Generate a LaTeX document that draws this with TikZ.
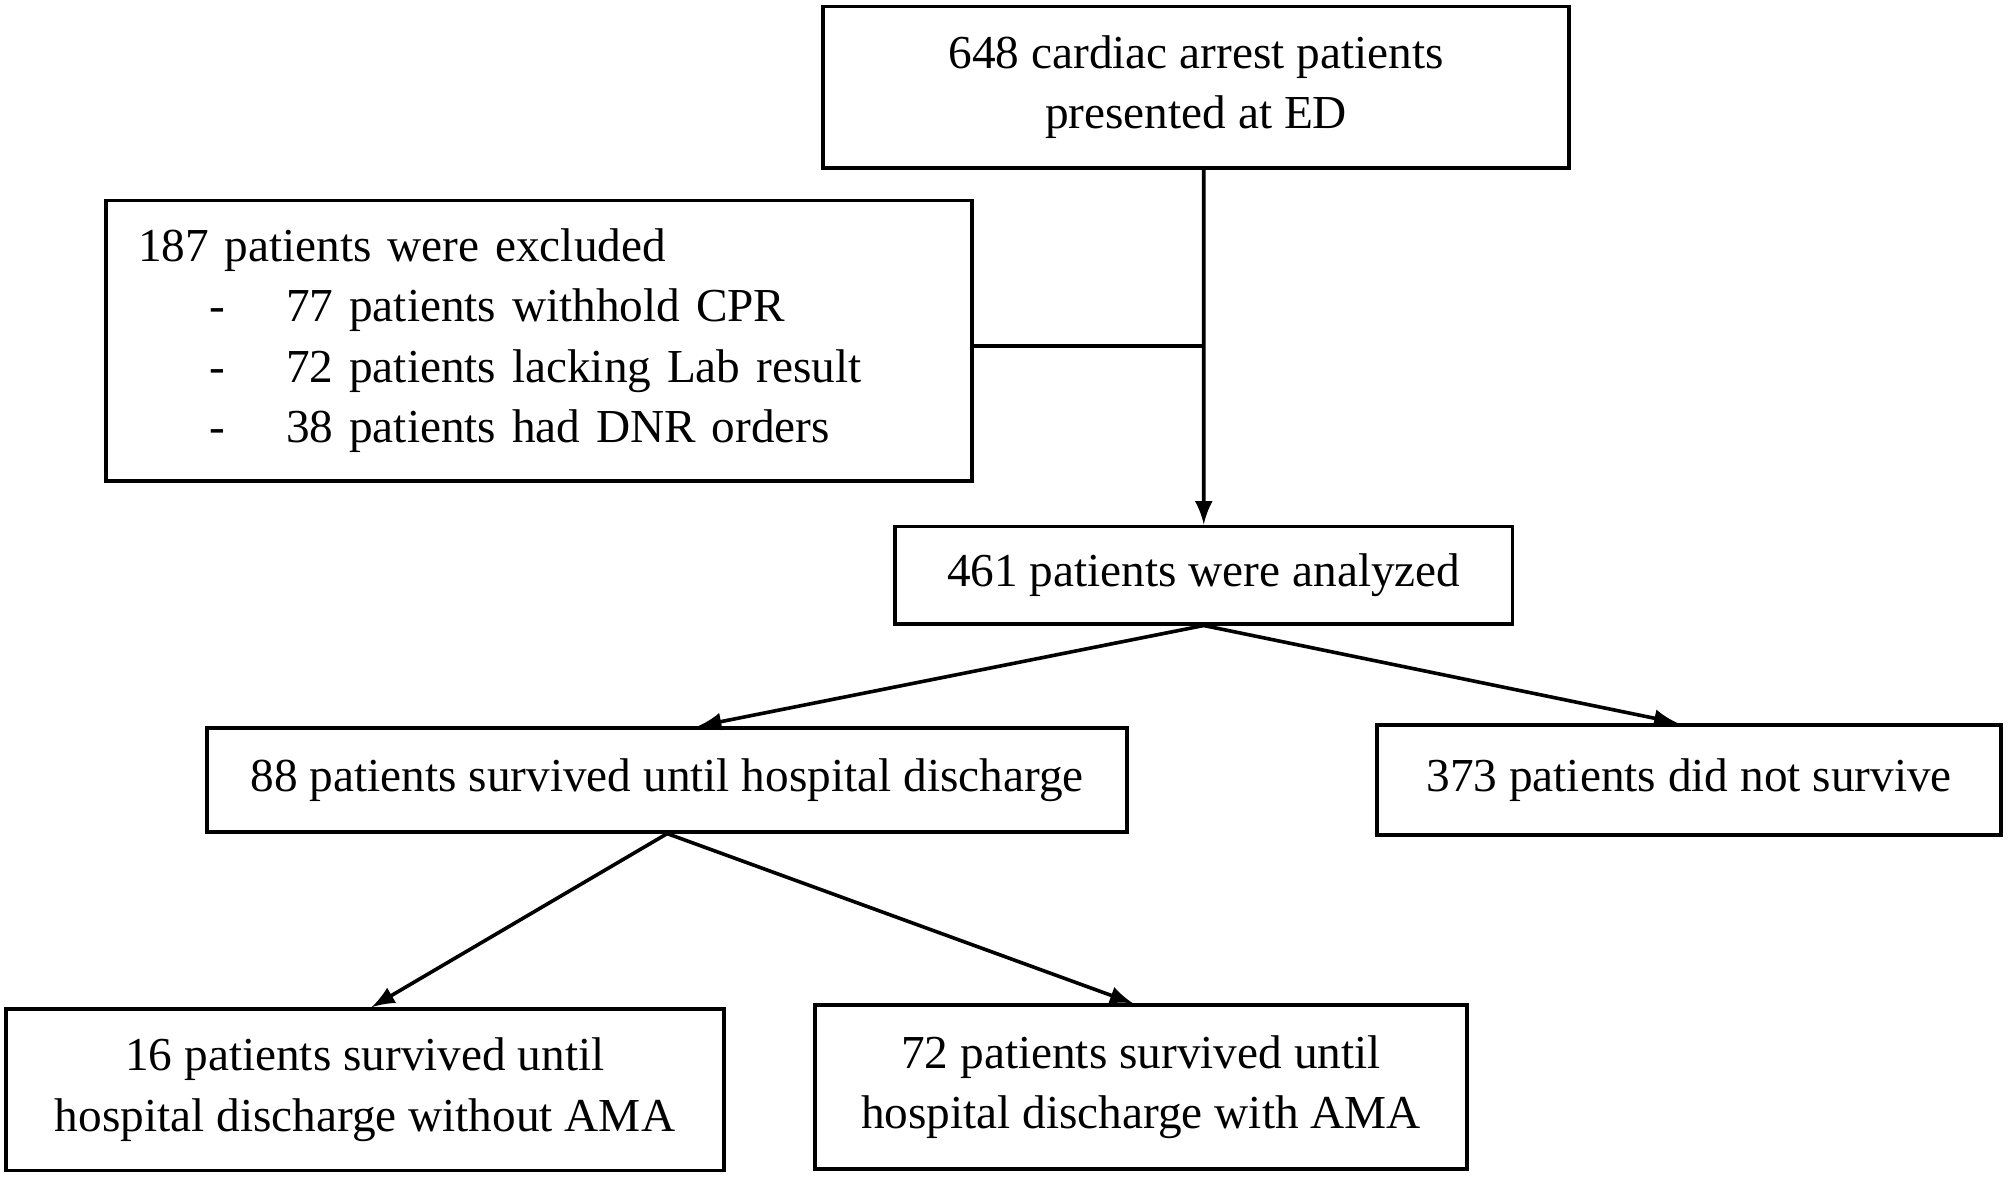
\documentclass[tikz,border=0pt]{standalone}
\usepackage{fontspec}
\setmainfont{Liberation Serif}
\usetikzlibrary{positioning}

\begin{document}
\begin{tikzpicture}[x=0.01cm,y=-0.01cm,
  box/.style={draw,thick,align=center,inner sep=0pt,font=\fontsize{10.5}{13.4}\selectfont},
  arr/.style={->,>=latex,draw=black,thick}]

  \useasboundingbox (0,0) rectangle (1568,920);

  \node[box,minimum width=5.82cm,minimum height=1.26cm] (Pres) at (934,68) {648 cardiac arrest patients\\presented at ED};
  \node[box,minimum width=6.76cm,minimum height=2.19cm,align=left,text width=6.26cm] (Excl) at (421,266) {187 patients were excluded\\
    \hspace*{1.5em}-\hspace{1.3em}77 patients withhold CPR\\
    \hspace*{1.5em}-\hspace{1.3em}72 patients lacking Lab result\\
    \hspace*{1.5em}-\hspace{1.3em}38 patients had DNR orders};
  \node[box,minimum width=4.82cm,minimum height=0.76cm] (Anal) at (940,449) {461 patients were analyzed};
  \node[box,minimum width=7.18cm,minimum height=0.81cm] (Surv) at (521,609) {88 patients survived until hospital discharge};
  \node[box,minimum width=4.87cm,minimum height=0.86cm] (Dead) at (1319,609) {373 patients did not survive};
  \node[box,minimum width=5.6cm,minimum height=1.26cm] (NoAMA) at (285,851) {16 patients survived until\\hospital discharge without AMA};
  \node[box,minimum width=5.09cm,minimum height=1.28cm] (AMA) at (891,849) {72 patients survived until\\hospital discharge with AMA};

  % main flow
  \coordinate (Join) at (940,270);
  \draw[arr] ([xshift=0.06cm]Pres.south) to (Anal.north);
  \draw[thick] (Excl.east |- Join) to (Join);

  % split
  \draw[arr] (Anal.south) to ([xshift=0.24cm]Surv.north);
  \draw[arr] (Anal.south) to ([xshift=-0.09cm]Dead.north);
  \draw[arr] (Surv.south) to ([xshift=0.05cm]NoAMA.north);
  \draw[arr] (Surv.south) to ([xshift=-0.06cm]AMA.north);

\end{tikzpicture}
\end{document}
